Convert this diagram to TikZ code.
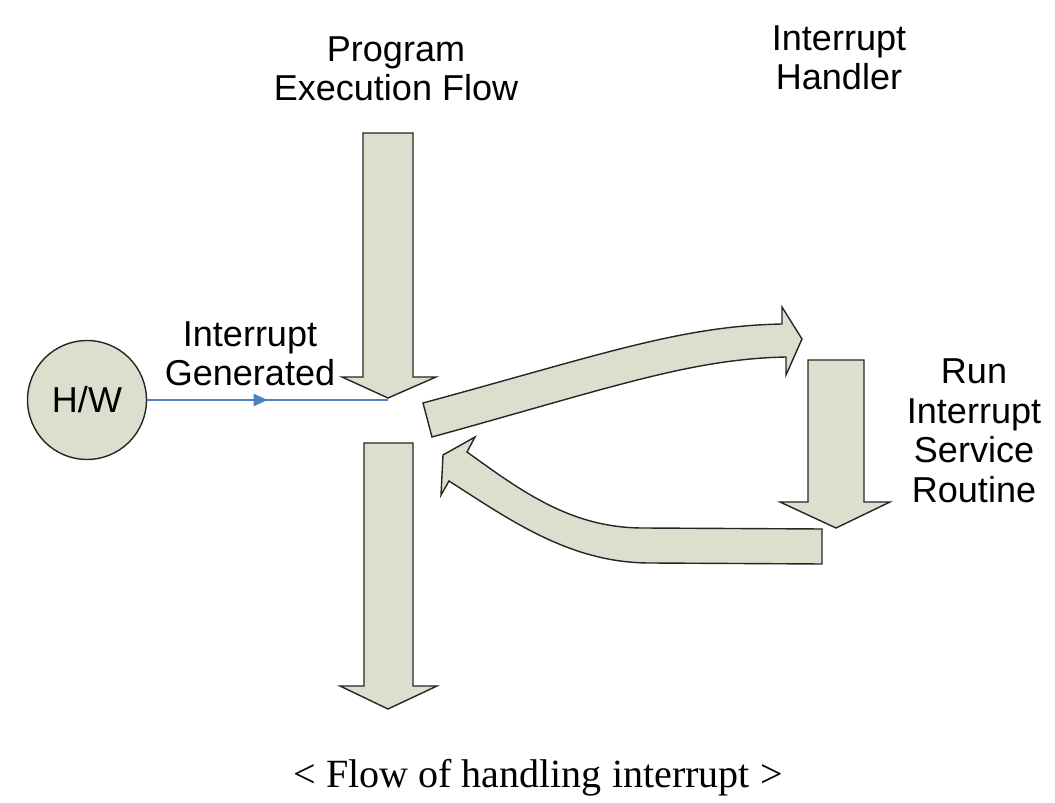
\documentclass[tikz,border=0pt]{standalone}
\usepackage{fontspec}
\setmainfont{Liberation Sans}
\newfontfamily\captionfont{Liberation Serif}
\usetikzlibrary{arrows.meta}
\usetikzlibrary{decorations.markings}
\definecolor{arrowfill}{RGB}{220,223,205}
\definecolor{linkblue}{RGB}{79,129,189}

\begin{document}
\begin{tikzpicture}[x=0.02cm, y=-0.02cm,
  block/.style={draw=black!85, fill=arrowfill, line width=0.8pt, line join=miter},
  lbl/.style={align=center, inner sep=0pt, font=\fontsize{20.5}{22.5}\selectfont}]
\useasboundingbox (0,0) rectangle (1055,803);

%program flow, upper part
\draw[block] (363,133) -- (413,133) -- (413,377) -- (436,377) -- (388,398) -- (342,377) -- (363,377) -- cycle;
\coordinate (ptip) at (388,400);
%program flow, lower part
\draw[block] (364,443) -- (413,443) -- (413,686) -- (437,686) -- (388,709) -- (340,686) -- (364,686) -- cycle;

%jump to handler
\draw[block] (423,403) .. controls (600,355) and (680,326) .. (782,324) -- (782,307) -- (802,339)
  -- (786,375) -- (786,357) .. controls (690,359) and (610,388) .. (432,437) -- cycle;
%run service routine
\draw[block] (808,360) -- (864,360) -- (864,502) -- (890,502) -- (836,528) -- (780,502) -- (808,502) -- cycle;
%return to program
\draw[block] (822,529) -- (643,528) .. controls (570,528) and (520,490) .. (467,452) -- (475,437) -- (443,455)
  -- (441,495) -- (449,481) .. controls (510,520) and (570,563) .. (650,563) -- (822,564) -- cycle;

%hardware
\node[lbl, circle, draw=black!85, fill=arrowfill, line width=0.8pt, minimum size=2.38cm] (hw) at (87,400) {H/W};
\draw[linkblue, line width=0.8pt, postaction={decorate},
  decoration={markings, mark=at position 0.5 with {\arrow{Triangle[length=8pt,width=7pt]}}}] (hw) -- (ptip);

%labels
\node[lbl] (prog) at (396,69) {Program\\Execution Flow};
\node[lbl] (handler) at (839,58) {Interrupt\\Handler};
\node[lbl] (gen) at (250,354) {Interrupt\\Generated};
\node[lbl] (isr) at (974,431) {Run\\Interrupt\\Service\\Routine};
\node[anchor=base, font=\captionfont\fontsize{22.8}{26}\selectfont] (cap) at (538,787) {< Flow of handling interrupt >};
\end{tikzpicture}
\end{document}
